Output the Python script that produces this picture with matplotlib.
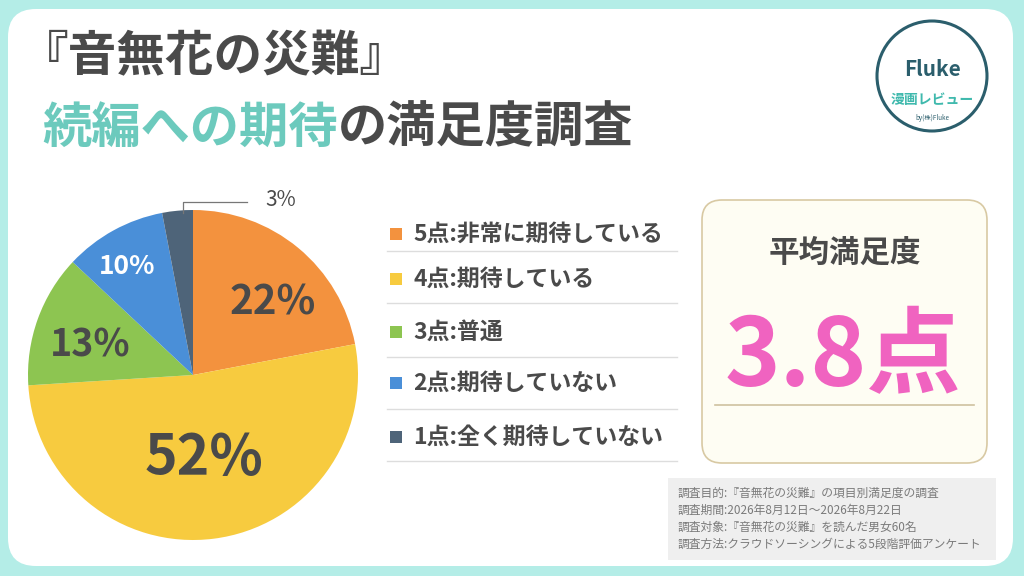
import matplotlib

matplotlib.use("Agg")
import matplotlib.pyplot as plt
from matplotlib.patches import FancyBboxPatch, Circle

plt.rcParams["font.family"] = ["Noto Sans CJK JP", "DejaVu Sans"]

# data
labels = ["5点:非常に期待している", "4点:期待している", "3点:普通", "2点:期待していない", "1点:全く期待していない"]
shares = [22, 52, 13, 10, 3]
colors = ["#f3923e", "#f7cb3f", "#8dc551", "#4a8fd8", "#4e6479"]
avg_score = 3.8
notes = [
    "調査目的:『音無花の災難』の項目別満足度の調査",
    "調査期間:2026年8月12日～2026年8月22日",
    "調査対象:『音無花の災難』を読んだ男女60名",
    "調査方法:クラウドソーシングによる5段階評価アンケート",
]

W, H = 1024, 576
DARK = "#4a4a4a"
TEAL = "#6ccabd"


def Y(y):
    # pixel row (top = 0) -> data y
    return H - y


fig = plt.figure(figsize=(W / 100, H / 100), dpi=100)
fig.patch.set_facecolor("#b4ede7")
ax = fig.add_axes([0, 0, 1, 1])

# white card
ax.add_patch(FancyBboxPatch((8, Y(566)), 1005, 557, boxstyle="round,pad=0,rounding_size=28",
                            fc="white", ec="none", zorder=0))

# title
ax.text(20, Y(57), "『音無花の災難』", fontsize=35, fontweight="bold", color=DARK, va="center", ha="left")
t = ax.text(42, Y(128), "続編への期待", fontsize=35.5, fontweight="bold", color=TEAL, va="center", ha="left")
ax.annotate("の満足度調査", xy=(1, 0.5), xycoords=t, fontsize=35.5, fontweight="bold",
            color=DARK, va="center", ha="left")

# logo
ax.add_patch(Circle((932, Y(76)), 55, fc="white", ec="#2b5e6c", lw=2.2, zorder=2))
ax.text(932, Y(69), "Fluke", fontsize=15, fontweight="bold", color="#2b5e6c", ha="center", va="center", zorder=3)
ax.text(932, Y(100), "漫画レビュー", fontsize=10, fontweight="bold", color="#3fb9ad", ha="center", va="center", zorder=3)
ax.text(932, Y(118), "by(株)Fluke", fontsize=4.5, color="#2b5e6c", ha="center", va="center", zorder=3)

# pie
cx, cy, r = 193, Y(375), 165
wedges, _ = ax.pie(shares, colors=colors, startangle=90, counterclock=False,
                   center=(cx, cy), radius=r, wedgeprops=dict(lw=0))
label_pos = [(273, 303), (204, 458), (90, 345), (127, 266)]
label_size = [29, 40, 27, 19]
label_color = [DARK, DARK, DARK, "white"]
for i, ((px, py), fs, c) in enumerate(zip(label_pos, label_size, label_color)):
    ax.text(px, Y(py), f"{shares[i]}%", fontsize=fs, fontweight="bold", color=c, ha="center", va="center")
ax.plot([183, 183, 247], [Y(213), Y(202), Y(202)], color="#777777", lw=0.9)
ax.text(281, Y(200), f"{shares[4]}%", fontsize=15, color=DARK, ha="center", va="center")

# legend
row_y = [234, 279, 332, 383, 437]
line_y = [251, 303, 357, 409, 461]
for lab, c, ry, ly in zip(labels, colors, row_y, line_y):
    ax.add_patch(plt.Rectangle((390, Y(ry) - 6), 12, 12, fc=c, ec="none"))
    ax.text(413, Y(ry), lab, fontsize=16.5, fontweight="bold", color=DARK, ha="left", va="center")
    ax.plot([387, 677], [Y(ly), Y(ly)], color="#dddddd", lw=1)

# average box
ax.add_patch(FancyBboxPatch((702, Y(463)), 285, 263, boxstyle="round,pad=0,rounding_size=20",
                            fc="#fefdf3", ec="#d8c9a3", lw=1.2))
ax.text(845, Y(253), "平均満足度", fontsize=22, fontweight="bold", color=DARK, ha="center", va="center")
ax.text(843, Y(358), f"{avg_score}点", fontsize=68, fontweight="bold", color="#f063c0", ha="center", va="center")
ax.plot([715, 974], [Y(405), Y(405)], color="#cfc2a0", lw=1.2)

# notes
ax.add_patch(plt.Rectangle((668, Y(560)), 328, 82, fc="#efefef", ec="none"))
for i, n in enumerate(notes):
    ax.text(678, Y(493 + 17 * i), n, fontsize=8.5, color="#7a7a7a", ha="left", va="center")

ax.set_xlim(0, W)
ax.set_ylim(0, H)
ax.set_aspect("auto")
ax.axis("off")
fig.savefig("out.png", dpi=100, facecolor=fig.get_facecolor())
